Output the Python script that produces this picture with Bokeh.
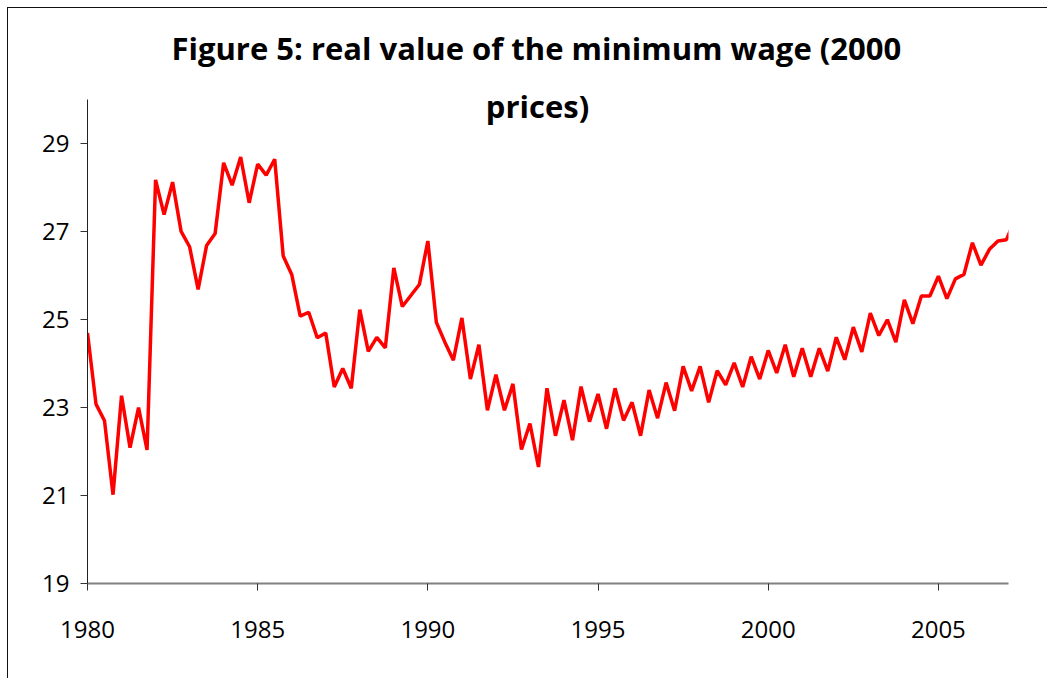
from bokeh.plotting import figure
from bokeh.models import Range1d, Label, FixedTicker, Title, InlineStyleSheet
from bokeh.embed import file_html
from bokeh.resources import INLINE

# Quarterly real minimum wage (2000 prices), starting 1980 Q1
start_year = 1980
wage = [
    24.70, 23.08, 22.70, 21.02,   # 1980
    23.27, 22.09, 23.00, 22.04,   # 1981
    28.18, 27.39, 28.13, 27.01,   # 1982
    26.66, 25.69, 26.69, 26.96,   # 1983
    28.57, 28.06, 28.70, 27.66,   # 1984
    28.54, 28.29, 28.65, 26.45,   # 1985
    26.03, 25.08, 25.17, 24.59,   # 1986
    24.70, 23.47, 23.89, 23.44,   # 1987
    25.23, 24.28, 24.60, 24.36,   # 1988
    26.18, 25.30, 25.55, 25.80,   # 1989
    26.79, 24.94, 24.49, 24.08,   # 1990
    25.04, 23.65, 24.43, 22.94,   # 1991
    23.75, 22.94, 23.54, 22.05,   # 1992
    22.64, 21.65, 23.44, 22.36,   # 1993
    23.17, 22.26, 23.48, 22.68,   # 1994
    23.31, 22.52, 23.44, 22.71,   # 1995
    23.12, 22.36, 23.40, 22.76,   # 1996
    23.57, 22.93, 23.94, 23.38,   # 1997
    23.94, 23.12, 23.84, 23.52,   # 1998
    24.02, 23.47, 24.16, 23.65,   # 1999
    24.30, 23.79, 24.43, 23.70,   # 2000
    24.35, 23.70, 24.35, 23.83,   # 2001
    24.60, 24.09, 24.83, 24.27,   # 2002
    25.15, 24.64, 25.00, 24.49,   # 2003
    25.45, 24.91, 25.54, 25.54,   # 2004
    25.99, 25.48, 25.93, 26.03,   # 2005
    26.75, 26.24, 26.60, 26.79,   # 2006
    26.82, 27.28,                 # 2007
]
x_ticks = [1980, 1985, 1990, 1995, 2000, 2005]
y_ticks = [19, 21, 23, 25, 27, 29]
y_axis_bounds = (19, 30)
title_lines = ["Figure 5: real value of the minimum wage (2000", "prices)"]

quarters = [start_year + i / 4 for i in range(len(wage))]

FONT = "Open Sans"

p = figure(
    width=1040, height=671,
    x_range=Range1d(1980, 2007.06), y_range=Range1d(19, 30.35),
    output_backend="svg", toolbar_location=None,
    min_border_left=79, min_border_right=40, min_border_top=76, min_border_bottom=96,
)
p.stylesheets = [InlineStyleSheet(css=":host { margin: 7px 0 0 7px; border-left: 1px solid #111; border-top: 1px solid #111; }")]
p.outline_line_color = None
p.grid.grid_line_color = None
p.background_fill_color = "white"
p.border_fill_color = "white"

p.line(quarters, wage, line_color="#FF0000", line_width=3.5)

p.xaxis.ticker = FixedTicker(ticks=x_ticks)
p.yaxis.ticker = FixedTicker(ticks=y_ticks)
p.yaxis.bounds = y_axis_bounds
for ax in (p.xaxis, p.yaxis):
    ax.minor_tick_line_color = None
    ax.major_tick_in = 0
    ax.major_tick_out = 7
    ax.major_label_text_font = FONT
    ax.major_label_text_font_size = "24px"
    ax.major_label_text_color = "black"
    ax.major_tick_line_color = "#333333"
p.xaxis.axis_line_color = "#808080"
p.xaxis.axis_line_width = 2
p.yaxis.axis_line_color = "#222222"
p.xaxis.major_label_standoff = 30
p.yaxis.major_label_standoff = 11

# two-line title: first line above the frame, second line just inside the frame top
p.add_layout(Title(text=title_lines[0], align="left", offset=84, text_font=FONT,
                   text_font_style="bold", text_font_size="31px",
                   text_color="black", standoff=32), "above")
p.add_layout(Label(x=450, y=478, x_units="screen", y_units="screen",
                   text=title_lines[1], text_align="center", text_baseline="middle",
                   text_font=FONT, text_font_style="bold", text_font_size="31px",
                   text_color="black"))

open("out.html", "w").write(file_html(p, INLINE))
